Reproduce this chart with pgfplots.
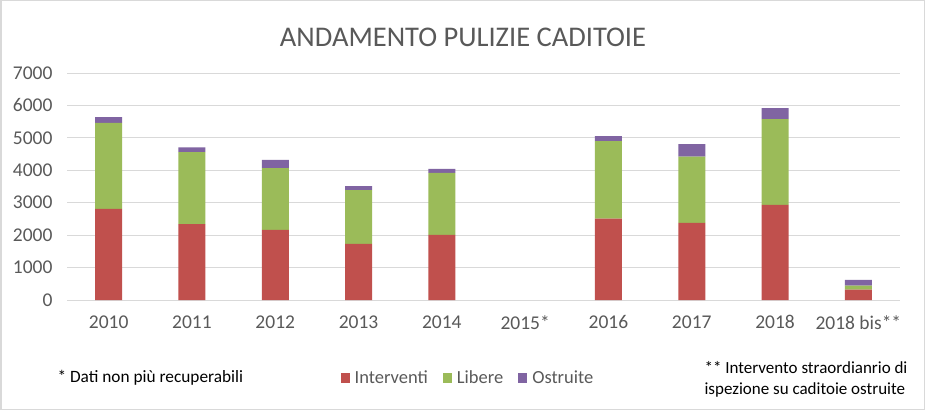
\documentclass[border=0pt]{standalone}
\usepackage{fontspec}
\setmainfont{Carlito}
\usepackage{pgfplots}
\usepackage{pgfplotstable}
\pgfplotsset{compat=1.18}

\definecolor{cRed}{HTML}{C0504D}
\definecolor{cGreen}{HTML}{9BBB59}
\definecolor{cPurple}{HTML}{8064A2}
\definecolor{cGrid}{HTML}{D9D9D9}
\definecolor{cText}{HTML}{595959}

% anno, interventi, libere, ostruite (2015: nessun dato)
\pgfplotstableread{
x int lib ost
0 2810 2650 180
1 2340 2220 150
2 2160 1910 250
3 1730 1660 120
4 2010 1910 120
5 0 0 0
6 2510 2390 150
7 2380 2040 390
8 2930 2650 340
9 320 120 180
}\datatable

\begin{document}
\begin{tikzpicture}[x=1pt,y=1pt]
\path[use as bounding box] (0,0) rectangle (925,410);
\draw[cGrid, line width=1.5pt] (0.75,0.75) rectangle (924.25,409.25);
\node[font=\fontsize{28.5}{32}\selectfont, text=cText] at (463,373) {ANDAMENTO PULIZIE CADITOIE};

\begin{axis}[
  at={(67pt,110pt)}, anchor=south west,
  scale only axis, width=833pt, height=227pt,
  ybar stacked, bar width=27pt,
  xmin=-0.5, xmax=9.5,
  ymin=0, ymax=7000,
  ytick={0,1000,...,7000},
  xtick={0,...,9},
  xticklabels={2010,2011,2012,2013,2014,2015*,2016,2017,2018,2018 bis**},
  major tick length=0pt,
  ymajorgrids, grid style={cGrid, line width=1pt},
  axis x line*=bottom, axis y line*=left,
  x axis line style={cGrid, line width=1pt, -},
  y axis line style={draw=none},
  ticklabel style={font=\fontsize{19.5}{23}\selectfont, text=cText},
  yticklabel style={/pgf/number format/assume math mode=true, /pgf/number format/1000 sep={}, xshift=-11pt},
  xticklabel style={yshift=-12pt},
  legend style={at={(0.4814,-0.3436)}, anchor=center, draw=none, fill=none,
    legend columns=3, font=\fontsize{18.5}{22}\selectfont, text=cText,
    /tikz/every odd column/.append style={column sep=3pt},
    /tikz/every even column/.append style={column sep=13pt}},
  legend image code/.code={\fill[#1] (0pt,-4.5pt) rectangle (9pt,4.5pt);},
]
\addplot[fill=cRed, draw=none] table[x=x, y=int] {\datatable};
\addplot[fill=cGreen, draw=none] table[x=x, y=lib] {\datatable};
\addplot[fill=cPurple, draw=none] table[x=x, y=ost] {\datatable};
\legend{Interventi, Libere, Ostruite}
\end{axis}

\node[anchor=west, font=\fontsize{17.3}{20}\selectfont] at (54,32) {* Dati non più recuperabili};
\node[anchor=west, align=left, font=\fontsize{17}{21}\selectfont] at (701,30.5) {** Intervento straordianrio di\\ispezione su caditoie ostruite};
\end{tikzpicture}
\end{document}
